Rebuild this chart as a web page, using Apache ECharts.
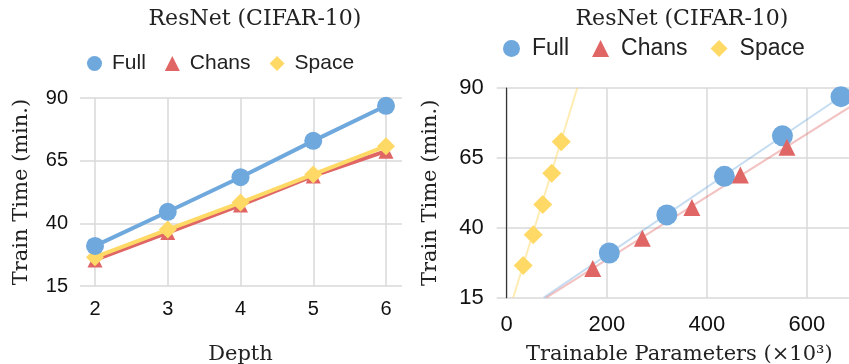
<!DOCTYPE html>
<html>
<head>
<meta charset="utf-8">
<script src="https://cdn.jsdelivr.net/npm/echarts@6/dist/echarts.min.js"></script>
<style>html,body{margin:0;padding:0;background:#fff}#c{width:849px;height:364px}</style>
</head>
<body>
<div id="c"></div>
<script>
const seriesNames = ['Full', 'Chans', 'Space'];
const depths = [2, 3, 4, 5, 6];
const fullTime = [31, 44.6, 58.4, 72.9, 86.9];
const chansTime = [25.4, 36.3, 47.3, 58.9, 68.8];
const spaceTime = [26.5, 37.5, 48.3, 59.5, 70.8];
const fullParams = [205, 320, 435, 551, 668];
const chansParams = [172, 271, 370, 467, 560];
const spaceParams = [33, 53, 72, 90, 109];
const fullFitParams = [74, 690];
const fullFitTime = [15, 89.6];
const chansFitParams = [79, 690];
const chansFitTime = [15, 83.7];
const spaceFitParams = [13, 141];
const spaceFitTime = [15, 90];
const yTicks = [15, 40, 65, 90];
const depthTicks = [2, 3, 4, 5, 6];
const paramTicks = [0, 200, 400, 600];
const titleText = 'ResNet (CIFAR-10)';

const BLUE = '#6fa8dc', RED = '#e06666', YELLOW = '#ffd966';
const GRID = '#d9d9d9';
const SERIF = '"DejaVu Serif", serif';
const SANS = '"Liberation Sans", Arial, sans-serif';
const zip = (a, b) => a.map((v, i) => [v, b[i]]);

const chart = echarts.init(document.getElementById('c'));
const yMin = yTicks[0], yMax = yTicks[yTicks.length - 1], yInt = yTicks[1] - yTicks[0];
const legendData = [{name: seriesNames[0], icon: 'circle'}, {name: seriesNames[1], icon: 'triangle'}, {name: seriesNames[2], icon: 'diamond'}];

const option = {
  animation: false,
  title: [
    {text: titleText, left: 250, top: 3, textAlign: 'center',
     textStyle: {fontFamily: SERIF, fontWeight: 'normal', fontSize: 22, color: '#222'}},
    {text: titleText, left: 677, top: 3, textAlign: 'center',
     textStyle: {fontFamily: SERIF, fontWeight: 'normal', fontSize: 22, color: '#222'}}
  ],
  legend: [
    {left: 82, top: 48, itemWidth: 15, itemHeight: 15, itemGap: 19,
     textStyle: {fontFamily: SANS, fontSize: 21, color: '#222', padding: [0, 0, 0, 5]},
     data: legendData},
    {left: 498, top: 32, itemWidth: 17, itemHeight: 17, itemGap: 23,
     textStyle: {fontFamily: SANS, fontSize: 23, color: '#222', padding: [0, 0, 0, 7]},
     data: legendData}
  ],
  grid: [
    {left: 80, right: 447, top: 98, bottom: 78, outerBoundsMode: 'none', containLabel: false},
    {left: 95, right: 463, top: 98, bottom: 78, outerBoundsMode: 'none', containLabel: false},
    {left: 496.7, right: -3, top: 88, bottom: 66.3, outerBoundsMode: 'none', containLabel: false},
    {left: 506.7, right: -3, top: 88, bottom: 66.3, outerBoundsMode: 'none', containLabel: false}
  ],
  xAxis: [
    {gridIndex: 0, type: 'value', min: 0, max: 1, show: false},
    {gridIndex: 1, type: 'value', min: depthTicks[0], max: depthTicks[depthTicks.length - 1], interval: 1,
     name: 'Depth', nameLocation: 'middle', nameGap: 58,
     nameTextStyle: {fontFamily: SERIF, fontSize: 21, color: '#222'},
     axisLine: {show: false}, axisTick: {show: false},
     axisLabel: {fontFamily: SANS, fontSize: 20, color: '#111', margin: 13},
     splitLine: {show: true, lineStyle: {color: GRID, width: 1.5}}},
    {gridIndex: 2, type: 'value', min: 0, max: 1, show: false},
    {gridIndex: 3, type: 'value', min: 0, max: 690, interval: 200,
     name: 'Trainable Parameters (×10³)', nameLocation: 'middle', nameGap: 46,
     nameTextStyle: {fontFamily: SERIF, fontSize: 21, color: '#222'},
     axisLine: {show: false}, axisTick: {show: false},
     axisLabel: {fontFamily: SANS, fontSize: 22, color: '#111', margin: 16, showMaxLabel: false,
       formatter: v => paramTicks.indexOf(v) >= 0 ? String(v) : ''},
     splitLine: {show: true, lineStyle: {color: GRID, width: 1.5}}}
  ],
  yAxis: [
    {gridIndex: 0, type: 'value', min: yMin, max: yMax, interval: yInt,
     name: 'Train Time (min.)', nameLocation: 'middle', nameGap: 48,
     nameTextStyle: {fontFamily: SERIF, fontSize: 21, color: '#222'},
     axisLine: {show: false}, axisTick: {show: false},
     axisLabel: {fontFamily: SANS, fontSize: 20, color: '#111', margin: 12},
     splitLine: {show: true, lineStyle: {color: GRID, width: 1.5}}},
    {gridIndex: 1, type: 'value', min: yMin, max: yMax, interval: yInt, show: false, splitLine: {show: false}},
    {gridIndex: 2, type: 'value', min: yMin, max: yMax, interval: yInt,
     name: 'Train Time (min.)', nameLocation: 'middle', nameGap: 56,
     nameTextStyle: {fontFamily: SERIF, fontSize: 21, color: '#222'},
     axisLine: {show: false}, axisTick: {show: false},
     axisLabel: {fontFamily: SANS, fontSize: 22, color: '#111', margin: 13},
     splitLine: {show: true, lineStyle: {color: GRID, width: 1.5}}},
    {gridIndex: 3, type: 'value', min: yMin, max: yMax, interval: yInt,
     axisLine: {show: true, onZero: false, lineStyle: {color: '#333', width: 1.2}},
     axisTick: {show: false}, axisLabel: {show: false}, splitLine: {show: false}}
  ],
  series: [
    {name: 'Full', type: 'line', xAxisIndex: 1, yAxisIndex: 1, data: zip(depths, fullTime),
     symbol: 'circle', symbolSize: 18, color: BLUE, lineStyle: {width: 4, color: BLUE}, z: 4},
    {name: 'Chans', type: 'line', xAxisIndex: 1, yAxisIndex: 1, data: zip(depths, chansTime),
     symbol: 'triangle', symbolSize: 15, color: RED, lineStyle: {width: 4, color: RED}, z: 2},
    {name: 'Space', type: 'line', xAxisIndex: 1, yAxisIndex: 1, data: zip(depths, spaceTime),
     symbol: 'diamond', symbolSize: 18, color: YELLOW, lineStyle: {width: 4, color: YELLOW}, z: 3},

    {name: 'Full fit', type: 'line', xAxisIndex: 3, yAxisIndex: 3, data: zip(fullFitParams, fullFitTime),
     symbol: 'none', lineStyle: {width: 2, color: BLUE, opacity: 0.4}, clip: true, z: 1, silent: true},
    {name: 'Chans fit', type: 'line', xAxisIndex: 3, yAxisIndex: 3, data: zip(chansFitParams, chansFitTime),
     symbol: 'none', lineStyle: {width: 2, color: RED, opacity: 0.4}, clip: true, z: 1, silent: true},
    {name: 'Space fit', type: 'line', xAxisIndex: 3, yAxisIndex: 3, data: zip(spaceFitParams, spaceFitTime),
     symbol: 'none', lineStyle: {width: 2, color: YELLOW, opacity: 0.5}, clip: true, z: 1, silent: true},

    {name: 'Full', type: 'scatter', xAxisIndex: 3, yAxisIndex: 3, data: zip(fullParams, fullTime),
     symbol: 'circle', symbolSize: 21, itemStyle: {color: BLUE, opacity: 1}, z: 5, clip: false},
    {name: 'Chans', type: 'scatter', xAxisIndex: 3, yAxisIndex: 3, data: zip(chansParams, chansTime),
     symbol: 'triangle', symbolSize: 17, itemStyle: {color: RED, opacity: 1}, z: 5},
    {name: 'Space', type: 'scatter', xAxisIndex: 3, yAxisIndex: 3, data: zip(spaceParams, spaceTime),
     symbol: 'diamond', symbolSize: 19, itemStyle: {color: YELLOW, opacity: 1}, z: 5}
  ]
};
chart.setOption(option);
</script>
</body>
</html>
